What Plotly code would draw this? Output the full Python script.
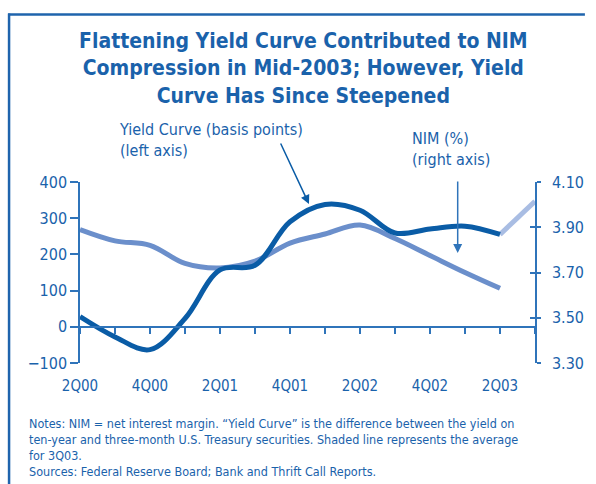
import plotly.graph_objects as go

# Quarterly data, 2Q00 through 3Q03
quarters = ["2Q00", "3Q00", "4Q00", "1Q01", "2Q01", "3Q01", "4Q01",
            "1Q02", "2Q02", "3Q02", "4Q02", "1Q03", "2Q03", "3Q03"]
# Yield curve (10-year minus 3-month Treasury), basis points, 2Q00-2Q03
yield_bp = [28, -28, -63, 23, 157, 170, 290, 338, 322, 259, 270, 278, 255]
# Average for 3Q03 (shaded segment from 2Q03 to 3Q03)
yield_3q03 = [255, 347]
# Net interest margin, percent, 2Q00-2Q03
nim_pct = [3.89, 3.84, 3.82, 3.74, 3.72, 3.75, 3.83, 3.87, 3.91, 3.85, 3.775, 3.70, 3.63]

left_ticks = [-100, 0, 100, 200, 300, 400]
right_ticks = [3.30, 3.50, 3.70, 3.90, 4.10]
label_quarters = quarters[0:13:2]

FONT = "Liberation Sans Narrow, Arial Narrow, DejaVu Sans Condensed, sans-serif"
TXT = "#1a62ab"
AXIS = "#2f74ba"
DARK = "#0a5ca6"
LIGHT = "#6b8fcb"
SHADE = "#a9bde3"

W, H = 596, 484
ML, MR, MT, MB = 80, 51, 182, 121
PW, PH = W - ML - MR, H - MT - MB


def fx(p):
    return (p - ML) / PW


def fy(p):
    return (MT + PH - p) / PH


xs = list(range(len(yield_bp)))
n_q = len(quarters) - 1

fig = go.Figure()
fig.add_trace(go.Scatter(
    x=xs, y=nim_pct, yaxis="y2", mode="lines",
    line=dict(color=LIGHT, width=5, shape="spline", smoothing=1.0),
    hoverinfo="skip", showlegend=False))
fig.add_trace(go.Scatter(
    x=[xs[-1], xs[-1] + 1], y=yield_3q03, mode="lines",
    line=dict(color=SHADE, width=5),
    hoverinfo="skip", showlegend=False))
fig.add_trace(go.Scatter(
    x=xs, y=yield_bp, xaxis="x2", mode="lines",
    line=dict(color=DARK, width=5, shape="spline", smoothing=1.0),
    hoverinfo="skip", showlegend=False))

fig.update_layout(
    width=W, height=H,
    margin=dict(l=ML, r=MR, t=MT, b=MB),
    paper_bgcolor="white", plot_bgcolor="white",
    font=dict(family=FONT, color=TXT, size=15),
    showlegend=False,
    xaxis=dict(
        range=[0, n_q], showgrid=False, zeroline=False, showline=False,
        tickmode="array", tickvals=[quarters.index(q) for q in label_quarters],
        ticktext=label_quarters, ticks="", ticklabelstandoff=12,
        tickfont=dict(size=15, color=TXT), fixedrange=True),
    xaxis2=dict(
        range=[0, n_q], overlaying="x", anchor="free",
        position=(0 - left_ticks[0]) / (left_ticks[-1] - left_ticks[0]),
        showgrid=False, zeroline=False, showline=True, linecolor=AXIS,
        linewidth=1.5, ticks="outside", ticklen=6, tickwidth=1.5,
        tickcolor=AXIS, dtick=1, tick0=0, showticklabels=False),
    yaxis=dict(
        range=[left_ticks[0], left_ticks[-1]], tickvals=left_ticks,
        ticktext=["\u2212100" if v < 0 else str(v) for v in left_ticks],
        showgrid=False, zeroline=False, showline=True, linecolor=AXIS,
        linewidth=1.5, ticks="outside", ticklen=8, tickwidth=1.5,
        tickcolor=AXIS, tickfont=dict(size=16, color=TXT)),
    yaxis2=dict(
        range=[right_ticks[0], right_ticks[-1]], overlaying="y", side="right",
        tickvals=right_ticks, tickformat=".2f", anchor="x",
        showgrid=False, zeroline=False, showline=True, linecolor=AXIS,
        linewidth=1.5, ticks="outside", ticklen=4, tickwidth=1.5,
        tickcolor=AXIS, ticklabelstandoff=8, tickfont=dict(size=16, color=TXT)),
    yaxis3=dict(
        range=[right_ticks[0], right_ticks[-1]], overlaying="y", side="right",
        tickvals=right_ticks, anchor="x", showticklabels=False,
        showgrid=False, zeroline=False, showline=False,
        ticks="inside", ticklen=5, tickwidth=1.5, tickcolor=AXIS),
)

# A hidden trace keeps the inner right-hand tick marks drawn
fig.add_trace(go.Scatter(x=[None], y=[None], yaxis="y3", showlegend=False,
                         hoverinfo="skip"))

annotations = [
    dict(text="<b>Flattening Yield Curve Contributed to NIM<br>"
              "Compression in Mid-2003; However, Yield<br>"
              "Curve Has Since Steepened</b>",
         x=fx(308), y=fy(68), font=dict(size=21, color=TXT),
         xanchor="center", yanchor="middle", align="center"),
    dict(text="Yield Curve (basis points)<br>(left axis)",
         x=fx(118), y=fy(140), font=dict(size=16, color=TXT),
         xanchor="left", yanchor="middle", align="left"),
    dict(text="NIM (%)<br>(right axis)",
         x=fx(417), y=fy(149), font=dict(size=16, color=TXT),
         xanchor="left", yanchor="middle", align="left"),
]
notes = [
    "Notes: NIM = net interest margin. \u201cYield Curve\u201d is the difference between the yield on",
    "ten-year and three-month U.S. Treasury securities. Shaded line represents the average",
    "for 3Q03.",
    "Sources: Federal Reserve Board; Bank and Thrift Call Reports.",
]
for i, line in enumerate(notes):
    annotations.append(dict(text=line, x=fx(26), y=fy(423 + 16.2 * i),
                            font=dict(size=12.5, color=TXT),
                            xanchor="left", yanchor="middle", align="left"))

# Pointer arrows from the series labels to their lines
annotations.append(dict(text="", x=fx(314), y=fy(204), ax=-29, ay=-62,
                        showarrow=True, arrowhead=2, arrowsize=1.2,
                        arrowwidth=1.5, arrowcolor=DARK))
annotations.append(dict(text="", x=fx(466), y=fy(253), ax=0, ay=-73,
                        showarrow=True, arrowhead=2, arrowsize=1.2,
                        arrowwidth=1.5, arrowcolor=AXIS))
for a in annotations:
    a.setdefault("xref", "paper")
    a.setdefault("yref", "paper")
    a.setdefault("showarrow", False)
fig.update_layout(annotations=annotations)

# Frame rules along the top and left edge
frame = dict(color="#1f64ad", width=2.5)
fig.add_shape(type="line", xref="paper", yref="paper",
              x0=fx(7.5), y0=fy(13.5), x1=fx(7.5), y1=fy(484), line=frame)
fig.add_shape(type="line", xref="paper", yref="paper",
              x0=fx(6.5), y0=fy(14.5), x1=fx(596), y1=fy(14.5), line=frame)

fig.write_html("out.html", config={"displayModeBar": False})
